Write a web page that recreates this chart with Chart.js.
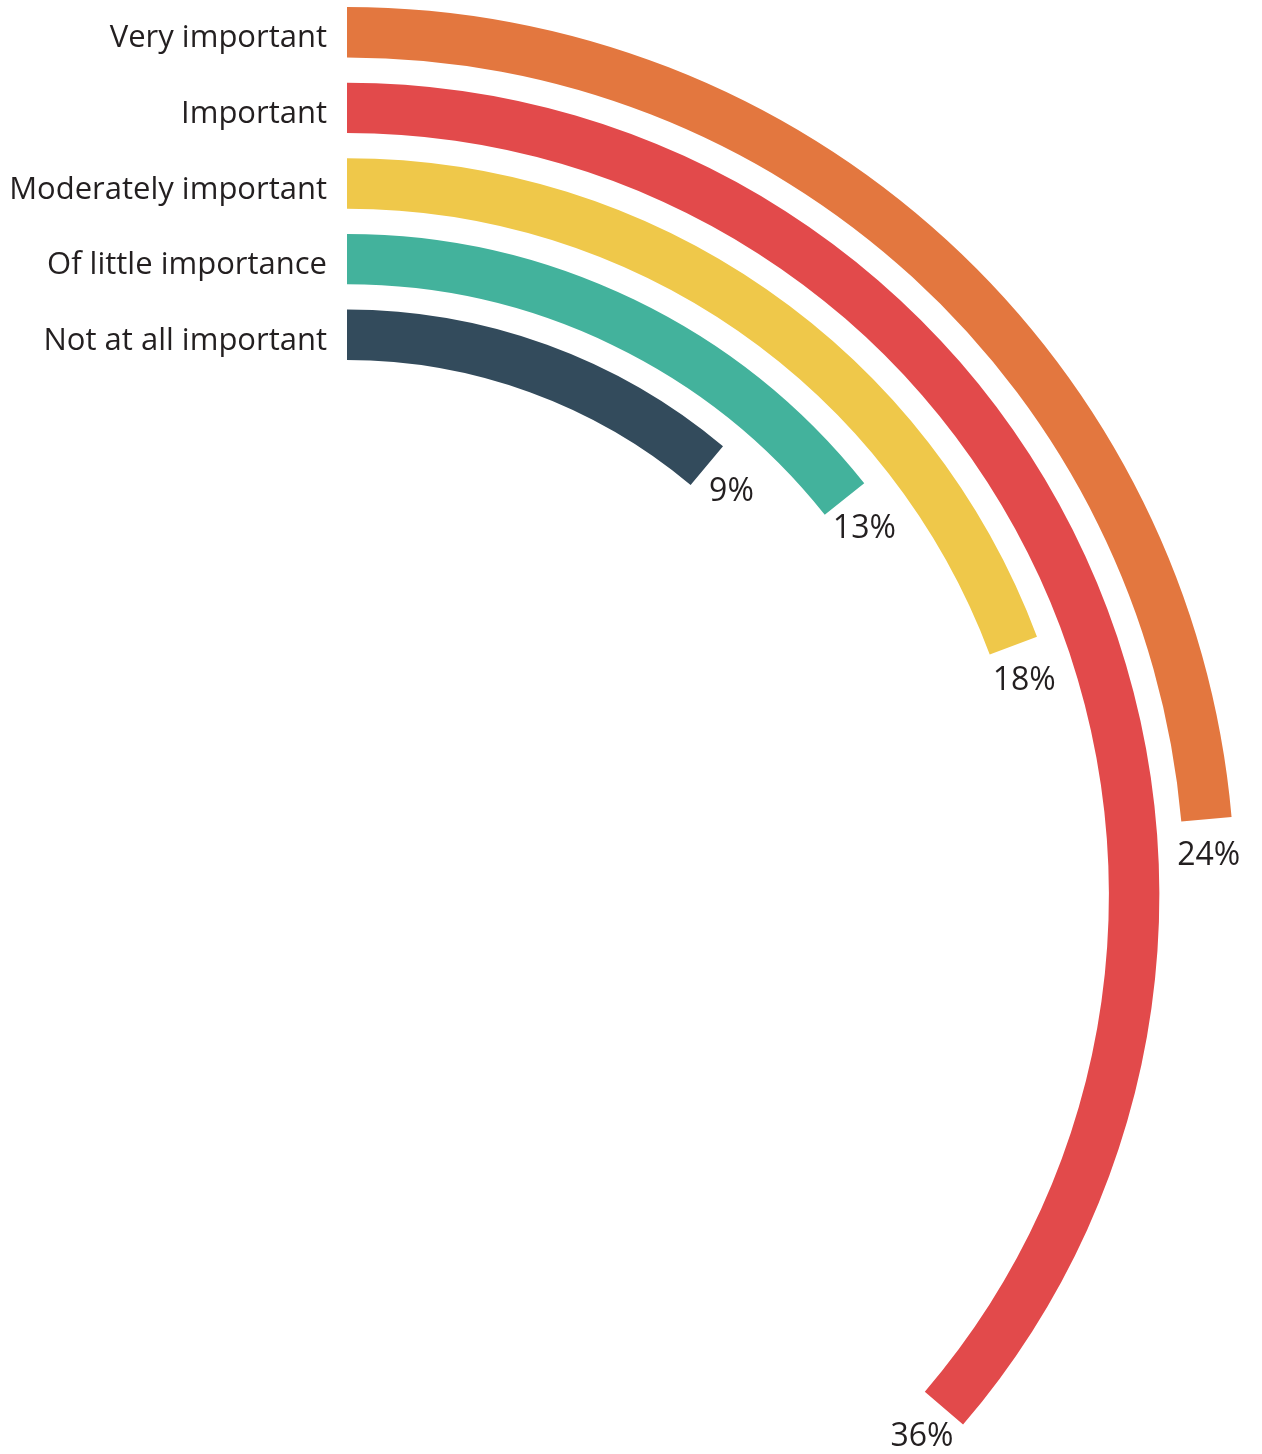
<!DOCTYPE html>
<html>
<head>
<meta charset="utf-8">
<script src="https://cdn.jsdelivr.net/npm/chart.js@4.4.1/dist/chart.umd.min.js"></script>
<style>
  html, body { margin: 0; padding: 0; background: #fff; overflow: hidden; }
  body { width: 1262px; height: 1454px; position: relative; }
  /* the canvas is bigger than the page: the circle centre sits at (347, 895) */
  #wrap { position: absolute; left: -541px; top: 7px; width: 1856px; height: 1776px; }
</style>
</head>
<body>
<div id="wrap"><canvas id="radial" width="1856" height="1776"></canvas></div>
<script>
// ---- data (outer ring first) ----
const categories = ['Very important', 'Important', 'Moderately important', 'Of little importance', 'Not at all important'];
const shareLabels = [24, 36, 18, 13, 9];              // printed percentages
const arcSweep = [23.6, 36.3, 19.3, 14.3, 11.1];      // drawn arc length, % of a full turn
const colors = ['#E3773F', '#E24A4B', '#EFC84A', '#43B29C', '#334B5C'];

const TEXT = '#231F20';
const FONT = '"Open Sans", "Noto Sans", sans-serif';

// Build ring datasets with transparent spacer rings between them
const datasets = [];
categories.forEach((cat, i) => {
  if (i > 0) {
    datasets.push({ data: [0], backgroundColor: ['rgba(0,0,0,0)'], weight: 25.2, spacer: true });
  }
  datasets.push({
    label: cat,
    data: [arcSweep[i], 100 - arcSweep[i]],
    backgroundColor: [colors[i], 'rgba(0,0,0,0)'],
    weight: 50.5,
    ringIndex: i,
  });
});

const ringLabels = {
  id: 'ringLabels',
  afterDatasetsDraw(chart) {
    const ctx = chart.ctx;
    ctx.save();
    chart.data.datasets.forEach((ds, di) => {
      if (ds.spacer) return;
      const arc = chart.getDatasetMeta(di).data[0];
      const rMid = (arc.innerRadius + arc.outerRadius) / 2;

      // category name, left of the ring start
      ctx.fillStyle = TEXT;
      ctx.font = '31px ' + FONT;
      ctx.textAlign = 'right';
      ctx.textBaseline = 'alphabetic';
      ctx.fillText(ds.label, arc.x - 20, arc.y - rMid + 15);

      // percentage, just past the arc end
      const a = arc.endAngle + 33 / rMid;
      ctx.font = '32px ' + FONT;
      ctx.textAlign = 'center';
      ctx.textBaseline = 'middle';
      ctx.fillText(shareLabels[ds.ringIndex] + '%', arc.x + rMid * Math.cos(a), arc.y + rMid * Math.sin(a) + 4);
    });
    ctx.restore();
  }
};

new Chart(document.getElementById('radial'), {
  type: 'doughnut',
  data: { labels: ['value', 'rest'], datasets },
  options: {
    responsive: false,
    animation: false,
    cutout: 535,
    rotation: 0,
    circumference: 360,
    layout: { padding: { left: 0, top: 0, bottom: 0, right: 80 } },
    elements: { arc: { borderWidth: 0, hoverOffset: 0, offset: 0 } },
    events: [],
    plugins: { legend: { display: false }, tooltip: { enabled: false } },
  },
  plugins: [ringLabels],
});
</script>
</body>
</html>
